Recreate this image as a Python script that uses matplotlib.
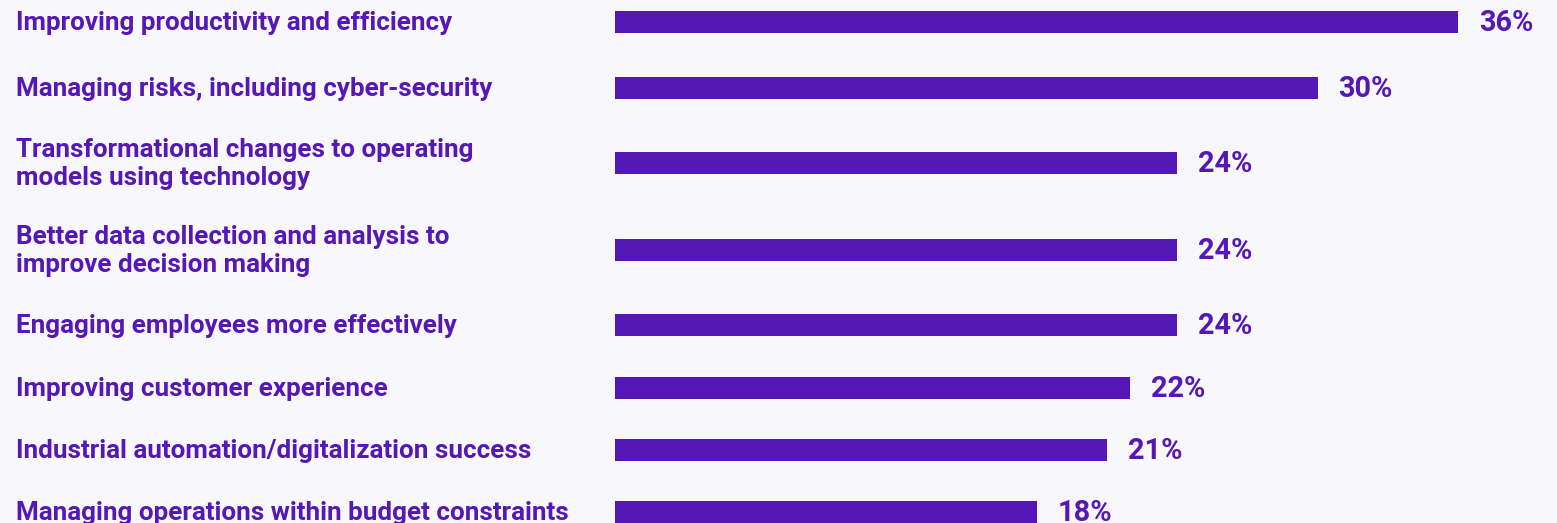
import matplotlib
matplotlib.use("Agg")
import matplotlib.pyplot as plt

categories = [
    "Improving productivity and efficiency",
    "Managing risks, including cyber-security",
    "Transformational changes to operating\nmodels using technology",
    "Better data collection and analysis to\nimprove decision making",
    "Engaging employees more effectively",
    "Improving customer experience",
    "Industrial automation/digitalization success",
    "Managing operations within budget constraints",
]
values = [36, 30, 24, 24, 24, 22, 21, 18]
value_labels = ["36%", "30%", "24%", "24%", "24%", "22%", "21%", "18%"]

# layout (pixel rows of bar centres)
row_centers = [22, 88, 163, 250, 325, 388, 450, 512]

W, H = 1557, 523
DPI = 100
BAR_X0 = 615
PX_PER_PCT = (1458 - 615) / 36.0
PURPLE = "#5416b4"
TEXT = "#5517b6"
BG = "#f8f7fc"

fig = plt.figure(figsize=(W / DPI, H / DPI), dpi=DPI, facecolor=BG)
ax = fig.add_axes([0, 0, 1, 1], facecolor=BG)
x_left = -BAR_X0 / PX_PER_PCT
x_right = (W - BAR_X0) / PX_PER_PCT
ax.set_xlim(x_left, x_right)
ax.set_ylim(H, 0)
ax.axis("off")

ax.barh(row_centers, values, height=22, left=0, color=PURPLE, linewidth=0)

font = "Roboto"
for cat, v, lab, y in zip(categories, values, value_labels, row_centers):
    ax.text(x_left + 16 / PX_PER_PCT, y + 1, cat, ha="left", va="center",
            fontsize=18.7, fontweight="bold", family=font, color=TEXT,
            linespacing=1.2)
    ax.text(v + 21 / PX_PER_PCT, y + 1, lab, ha="left", va="center",
            fontsize=20.8, fontweight="bold", family=font, color=TEXT)

fig.savefig("out.png", dpi=DPI, facecolor=BG)
